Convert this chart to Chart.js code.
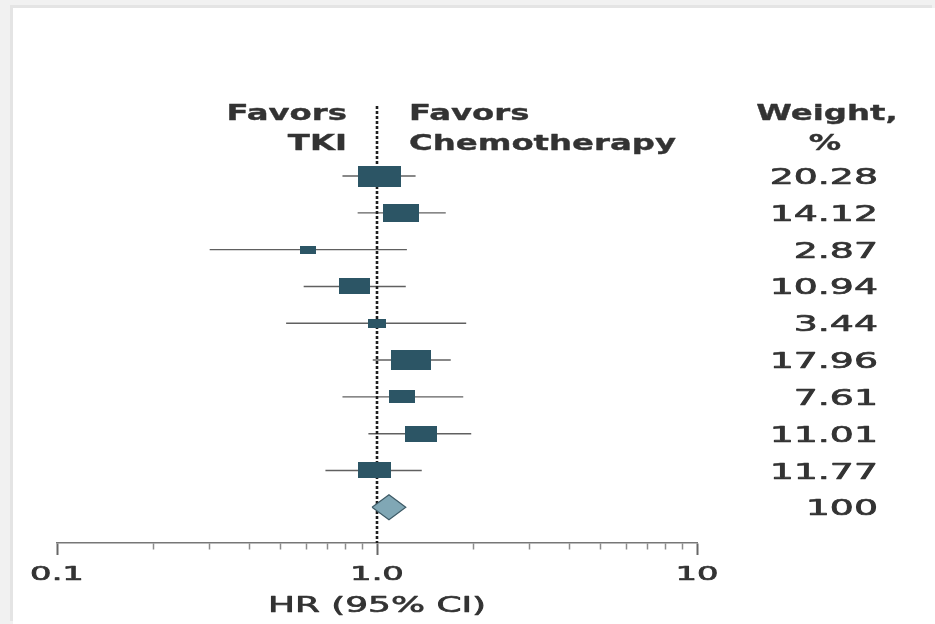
<!DOCTYPE html>
<html>
<head>
<meta charset="utf-8">
<script src="https://cdn.jsdelivr.net/npm/chart.js@4.4.1/dist/chart.umd.min.js"></script>
<style>
  html, body { margin: 0; padding: 0; width: 935px; height: 624px; overflow: hidden; background: #f1f1f1; }
  #panel { position: absolute; left: 13px; top: 8px; width: 922px; height: 616px; background: #fff; box-shadow: -3px -3px 0 #e4e4e4; }
  #forest { position: absolute; left: 0; top: 0; }
</style>
</head>
<body>
<div id="panel"></div>
<canvas id="forest" width="935" height="624"></canvas>
<script>
// Study-level hazard ratios (TKI vs chemotherapy) with 95% CI and weights
const hazardRatio = [1.02, 1.19, 0.61, 0.85, 1.00, 1.28, 1.20, 1.37, 0.98];
const ciLow       = [0.78, 0.87, 0.30, 0.59, 0.52, 0.97, 0.78, 0.94, 0.69];
const ciHigh      = [1.32, 1.64, 1.24, 1.23, 1.90, 1.70, 1.86, 1.97, 1.38];
const weights     = [20.28, 14.12, 2.87, 10.94, 3.44, 17.96, 7.61, 11.01, 11.77];
const weightLabels = ['20.28', '14.12', '2.87', '10.94', '3.44', '17.96', '7.61', '11.01', '11.77', '100'];

// Pooled estimate
const pooledHr = [1.09];
const pooledCi = [0.965, 1.23];

// Axis ticks
const tickValues = [0.1, 0.2, 0.3, 0.4, 0.5, 0.6, 0.7, 0.8, 0.9, 1, 2, 3, 4, 5, 6, 7, 8, 9, 10];
const majorTicks = [0.1, 1, 10];
const tickLabels = ['0.1', '1.0', '10'];

const axisTitle = 'HR (95% CI)';
const headerLeft = ['Favors', 'TKI'];
const headerRight = ['Favors', 'Chemotherapy'];
const headerWeight = ['Weight,', '%'];

const pooledRow = hazardRatio.length;
const TEXT = '#333333';
const BOX = '#2c5565';

// Square marker whose area follows the study weight
function boxImage(w) {
  const s = Math.sqrt(w);
  const c = document.createElement('canvas');
  c.width = Math.max(2, Math.round(9.5 * s));
  c.height = Math.max(2, Math.round(4.7 * s));
  const g = c.getContext('2d');
  g.fillStyle = BOX;
  g.fillRect(0, 0, c.width, c.height);
  return c;
}

// Wide-set text (horizontally stretched glyphs), lightly stroked for weight
function wideText(ctx, text, x, cy, align, size, bold, sx) {
  ctx.save();
  ctx.font = (bold ? 'bold ' : '') + size + 'px "DejaVu Sans"';
  ctx.fillStyle = TEXT;
  ctx.strokeStyle = TEXT;
  ctx.lineWidth = bold ? 0.35 : 0.7;
  ctx.lineJoin = 'round';
  ctx.textBaseline = 'alphabetic';
  ctx.textAlign = 'left';
  const w = ctx.measureText(text).width * sx;
  const left = align === 'right' ? x - w : align === 'center' ? x - w / 2 : x;
  ctx.translate(left, cy + 0.365 * size);
  ctx.scale(sx, 1);
  ctx.fillText(text, 0, 0);
  ctx.strokeText(text, 0, 0);
  ctx.restore();
}

const textPlugin = {
  id: 'forestText',
  afterDraw(chart) {
    const ctx = chart.ctx;
    const xs = chart.scales.x, ys = chart.scales.y;
    const x1 = xs.getPixelForValue(1);
    const yHead1 = ys.getPixelForValue(-1.73);
    const yHead2 = ys.getPixelForValue(-0.92);

    wideText(ctx, headerLeft[0], x1 - 30, yHead1, 'right', 22, true, 1.47);
    wideText(ctx, headerLeft[1], x1 - 30, yHead2, 'right', 22, true, 1.47);
    wideText(ctx, headerRight[0], x1 + 32, yHead1, 'left', 22, true, 1.47);
    wideText(ctx, headerRight[1], x1 + 32, yHead2, 'left', 22, true, 1.47);
    wideText(ctx, headerWeight[0], 827, yHead1, 'center', 22, true, 1.47);
    wideText(ctx, headerWeight[1], 825, yHead2, 'center', 22, true, 1.47);

    weightLabels.forEach((t, i) => {
      wideText(ctx, t, 878, ys.getPixelForValue(i), 'right', 22, false, 1.72);
    });

    majorTicks.forEach((v, i) => {
      wideText(ctx, tickLabels[i], xs.getPixelForValue(v), 572.5, 'center', 20, false, 1.69);
    });
    wideText(ctx, axisTitle, x1, 604, 'center', 22, false, 1.63);
  }
};

const ciSets = hazardRatio.map((h, i) => ({
  data: [{ x: ciLow[i], y: i }, { x: ciHigh[i], y: i }],
  showLine: true,
  borderColor: '#606060',
  borderWidth: 1.4,
  pointRadius: 0,
  order: 3
}));

const refLine = {
  data: [{ x: 1, y: -1.9 }, { x: 1, y: 9.97 }],
  showLine: true,
  borderColor: '#1e1e1e',
  borderWidth: 2.6,
  borderDash: [3, 2],
  pointRadius: 0,
  order: 2
};

const diamondHalf = 0.34;
const pooledSet = {
  data: [
    { x: pooledCi[0], y: pooledRow },
    { x: pooledHr[0], y: pooledRow - diamondHalf },
    { x: pooledCi[1], y: pooledRow },
    { x: pooledHr[0], y: pooledRow + diamondHalf },
    { x: pooledCi[0], y: pooledRow }
  ],
  showLine: true,
  fill: 'shape',
  backgroundColor: '#80a7b5',
  borderColor: '#3d5a66',
  borderWidth: 1.2,
  borderJoinStyle: 'miter',
  pointRadius: 0,
  order: 1
};

const studySet = {
  data: hazardRatio.map((h, i) => ({ x: h, y: i })),
  pointStyle: weights.map(boxImage),
  pointRadius: 5,
  borderWidth: 0,
  order: 0
};

new Chart(document.getElementById('forest'), {
  type: 'scatter',
  data: { datasets: [studySet, pooledSet, refLine, ...ciSets] },
  options: {
    responsive: false,
    devicePixelRatio: 1,
    animation: false,
    events: [],
    clip: false,
    layout: { padding: { left: 57, right: 238, top: 84, bottom: 0 } },
    plugins: { legend: { display: false }, tooltip: { enabled: false } },
    scales: {
      x: {
        type: 'logarithmic',
        position: 'bottom',
        min: 0.1,
        max: 10,
        afterBuildTicks: (s) => {
          s.ticks = tickValues.map(v => ({ value: v, major: majorTicks.includes(v) }));
        },
        afterFit: (s) => { s.height = 81; },
        ticks: { display: false },
        grid: {
          drawOnChartArea: false,
          drawTicks: true,
          tickLength: 12,
          tickColor: (c) => (c.tick && majorTicks.includes(c.tick.value)) ? '#666666' : '#8c8c8c',
          tickWidth: (c) => (c.tick && majorTicks.includes(c.tick.value)) ? 2 : 1.5,
          tickBorderDash: (c) => (c.tick && majorTicks.includes(c.tick.value)) ? [] : [6, 40]
        },
        border: { display: true, color: '#777777', width: 1.5 }
      },
      y: {
        type: 'linear',
        min: -2.5,
        max: 9.97,
        reverse: true,
        display: false
      }
    }
  },
  plugins: [textPlugin]
});
</script>
</body>
</html>
